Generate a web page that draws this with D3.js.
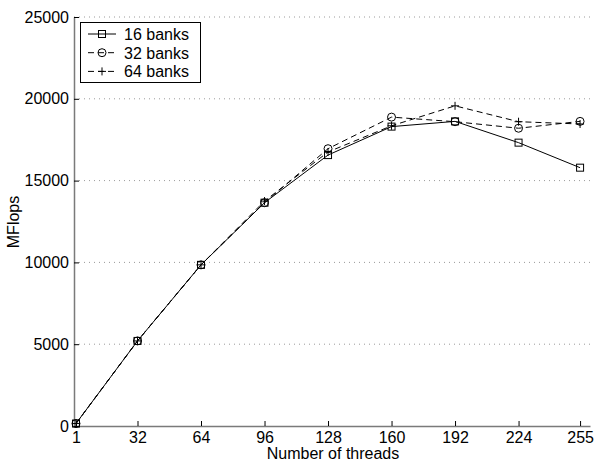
<!DOCTYPE html>
<html>
<head>
<meta charset="utf-8">
<script src="https://cdn.jsdelivr.net/npm/d3@7"></script>
<style>
  html, body { margin: 0; padding: 0; background: #fff; }
  svg { display: block; }
  text { font-family: "Liberation Sans", Arial, Helvetica, sans-serif; fill: #000; }
</style>
</head>
<body>
<svg id="chart" width="595" height="463"></svg>
<script>
// Thread counts on the x axis
const threads = [1, 32, 64, 96, 128, 160, 192, 224, 255];
const xTickLabels = ["1", "32", "64", "96", "128", "160", "192", "224", "255"];
const yTicks = [0, 5000, 10000, 15000, 20000, 25000];

// Measured throughput (MFlops) per number of memory banks
const banks16 = [150, 5200, 9850, 13650, 16560, 18300, 18620, 17320, 15790];
const banks32 = [150, 5200, 9850, 13650, 16950, 18880, 18600, 18200, 18620];
const banks64 = [150, 5200, 9850, 13750, 16750, 18350, 19570, 18600, 18460];

const seriesNames = ["16 banks", "32 banks", "64 banks"];
const seriesValues = [banks16, banks32, banks64];
const seriesDash = [null, "6,4", "6,4"];
const seriesMarker = ["square", "circle", "plus"];

const svg = d3.select("#chart");
const axisColor = "#7a7a7a";
const fontSize = 16;

const x = d3.scaleLinear().domain([0, 260]).range([74, 590]);
const y = d3.scaleLinear().domain([0, 25000]).range([426, 17]);

// Dotted horizontal grid lines
svg.append("g")
  .selectAll("line")
  .data(yTicks.filter(d => d > 0))
  .join("line")
  .attr("x1", x(0)).attr("x2", x(260))
  .attr("y1", d => y(d)).attr("y2", d => y(d))
  .attr("stroke", "#9a9a9a")
  .attr("stroke-width", 1)
  .attr("stroke-dasharray", "1,4");

// Bottom axis with inward ticks
const xAxis = svg.append("g")
  .attr("transform", `translate(0,${y(0)})`)
  .call(d3.axisBottom(x).tickValues(threads)
        .tickFormat((d, i) => xTickLabels[i])
        .tickSizeInner(-5).tickSizeOuter(0).tickPadding(6));
xAxis.select(".domain").attr("stroke", axisColor).attr("stroke-width", 1.5);
xAxis.selectAll(".tick line").attr("stroke", "#000");
xAxis.selectAll("text").attr("font-size", fontSize).style("font-family", "'Liberation Sans', Arial, sans-serif").attr("fill", "#000");

// Left axis with inward ticks
const yAxis = svg.append("g")
  .attr("transform", `translate(${x(0)},0)`)
  .call(d3.axisLeft(y).tickValues(yTicks).tickFormat(d3.format("d"))
        .tickSizeInner(-5).tickSizeOuter(0).tickPadding(5));
yAxis.select(".domain").attr("stroke", axisColor).attr("stroke-width", 1.5);
yAxis.selectAll(".tick line").attr("stroke", "#000");
yAxis.selectAll("text").attr("font-size", fontSize).style("font-family", "'Liberation Sans', Arial, sans-serif").attr("fill", "#000");

// Axis titles
svg.append("text")
  .attr("x", 333).attr("y", 459)
  .attr("text-anchor", "middle")
  .attr("font-size", fontSize)
  .text("Number of threads");
svg.append("text")
  .attr("transform", `translate(19,222) rotate(-90)`)
  .attr("text-anchor", "middle")
  .attr("font-size", fontSize)
  .text("MFlops");

function drawMarker(g, type, cx, cy) {
  if (type === "square") {
    g.append("rect").attr("x", cx - 3.5).attr("y", cy - 3.5)
      .attr("width", 7).attr("height", 7)
      .attr("fill", "none").attr("stroke", "#000").attr("stroke-width", 1);
  } else if (type === "circle") {
    g.append("circle").attr("cx", cx).attr("cy", cy).attr("r", 4)
      .attr("fill", "none").attr("stroke", "#000").attr("stroke-width", 1);
  } else {
    g.append("path")
      .attr("d", `M${cx - 4},${cy}H${cx + 4}M${cx},${cy - 4}V${cy + 4}`)
      .attr("stroke", "#000").attr("stroke-width", 1);
  }
}

const line = d3.line().x((d, i) => x(threads[i])).y(d => y(d));

seriesValues.forEach((vals, s) => {
  const g = svg.append("g");
  g.append("path")
    .datum(vals)
    .attr("d", line)
    .attr("fill", "none")
    .attr("stroke", "#000")
    .attr("stroke-width", 1)
    .attr("stroke-dasharray", seriesDash[s]);
  vals.forEach((v, i) => drawMarker(g, seriesMarker[s], x(threads[i]), y(v)));
});

// Legend
const legend = svg.append("g");
legend.append("rect")
  .attr("x", 80.5).attr("y", 22.5).attr("width", 120).attr("height", 60)
  .attr("fill", "#fff").attr("stroke", "#000").attr("stroke-width", 1);
seriesNames.forEach((name, s) => {
  const cy = 34 + s * 18.7;
  legend.append("line")
    .attr("x1", 88).attr("x2", 116).attr("y1", cy).attr("y2", cy)
    .attr("stroke", "#000").attr("stroke-width", 1)
    .attr("stroke-dasharray", seriesDash[s]);
  drawMarker(legend, seriesMarker[s], 102, cy);
  legend.append("text")
    .attr("x", 124).attr("y", cy + 6)
    .attr("font-size", fontSize)
    .text(name);
});
</script>
</body>
</html>
